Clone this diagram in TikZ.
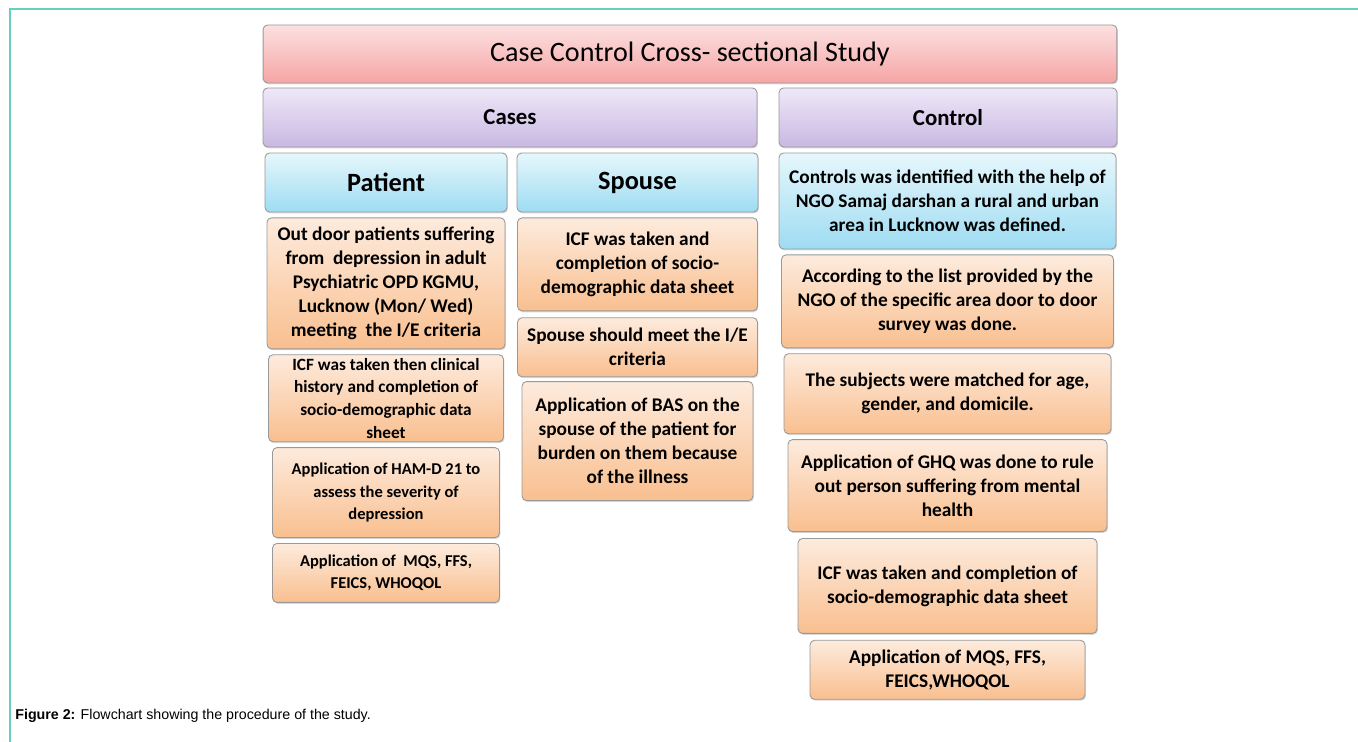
\documentclass[tikz,border=0pt]{standalone}
\usepackage{fontspec}
\setmainfont{Carlito}
\newfontfamily\capfont{Liberation Sans}
\usepackage{tikz}
\usetikzlibrary{positioning}
\usetikzlibrary{shadows}

\definecolor{framecol}{HTML}{66CFC0}
\definecolor{pinktop}{HTML}{FCE0E0}
\definecolor{pinkbot}{HTML}{F6A5A5}
\definecolor{lilactop}{HTML}{EFE8F8}
\definecolor{lilacbot}{HTML}{C8B8E2}
\definecolor{bluetop}{HTML}{E6F7FC}
\definecolor{bluebot}{HTML}{9EDCF2}
\definecolor{orangetop}{HTML}{FDEBDD}
\definecolor{orangebot}{HTML}{F9BF8F}

\begin{document}
\begin{tikzpicture}[x=0.02cm, y=-0.02cm,
    box/.style={draw=black!40, line width=0.5pt, rounded corners=0.09cm, align=center, inner sep=0pt,
        drop shadow={shadow xshift=0.5pt, shadow yshift=-0.8pt, opacity=0.3}},
    pinkbox/.style={box, top color=pinktop, bottom color=pinkbot},
    lilacbox/.style={box, top color=lilactop, bottom color=lilacbot},
    bluebox/.style={box, top color=bluetop, bottom color=bluebot},
    orangebox/.style={box, top color=orangetop, bottom color=orangebot},
    bodytext/.style={font=\bfseries\fontsize{11}{13.6}\selectfont},
    smalltext/.style={font=\bfseries\fontsize{9.4}{12.9}\selectfont},
    headtext/.style={font=\bfseries\fontsize{13}{15}\selectfont},
    subhead/.style={font=\bfseries\fontsize{15}{17}\selectfont}]

    \useasboundingbox (0,0) rectangle (1358,742);
    \draw[framecol, line width=1.2pt] (1358,9) -- (10,9) -- (10,742);

    \node[pinkbox, minimum width=17.08cm, minimum height=1.16cm, font=\fontsize{16}{18}\selectfont] (title) at (690,54) {Case Control Cross- sectional Study};
    \node[lilacbox, headtext, minimum width=9.88cm, minimum height=1.18cm] (cases) at (510,117.5) {Cases};
    \node[lilacbox, headtext, minimum width=6.76cm, minimum height=1.18cm] (control) at (948,117.5) {Control};

    \node[bluebox, subhead, minimum width=4.84cm, minimum height=1.18cm] (patient) at (386,182.5) {Patient};
    \node[orangebox, bodytext, minimum width=4.76cm, minimum height=2.62cm, below=0.1cm of patient] (p1)
        {Out door patients suffering\\from\ \ depression in adult\\Psychiatric OPD KGMU,\\Lucknow (Mon/ Wed)\\meeting\ \ the I/E criteria};
    \node[orangebox, smalltext, font=\bfseries\fontsize{9.8}{12.9}\selectfont, minimum width=4.7cm, minimum height=1.74cm, below=0.1cm of p1] (p2)
        {ICF was taken then clinical\\history and completion of\\socio-demographic data\\sheet};
    \node[orangebox, smalltext, minimum width=4.54cm, minimum height=1.8cm, below=0.1cm of p2] (p3)
        {Application of HAM-D 21 to\\assess the severity of\\depression};
    \node[orangebox, smalltext, minimum width=4.54cm, minimum height=1.18cm, below=0.1cm of p3] (p4)
        {Application of\ \ MQS, FFS,\\FEICS, WHOQOL};

    \node[bluebox, subhead, minimum width=4.82cm, minimum height=1.18cm] (spouse) at (637.5,182.5) {Spouse};
    \node[orangebox, bodytext, minimum width=4.8cm, minimum height=1.86cm, below=0.1cm of spouse] (s1)
        {ICF was taken and\\completion of socio-\\demographic data sheet};
    \node[orangebox, bodytext, minimum width=4.8cm, minimum height=1.18cm, below=0.12cm of s1] (s2)
        {Spouse should meet the I/E\\criteria};
    \node[orangebox, bodytext, minimum width=4.62cm, minimum height=2.38cm, below=0.08cm of s2] (s3)
        {Application of BAS on the\\spouse of the patient for\\burden on them because\\of the illness};

    \node[bluebox, bodytext, minimum width=6.74cm, minimum height=1.92cm] (ctrlinfo) at (947.5,201)
        {Controls was identified with the help of\\NGO Samaj darshan a rural and urban\\area in Lucknow was defined.};
    \node[orangebox, bodytext, minimum width=6.64cm, minimum height=1.86cm, below=0.1cm of ctrlinfo] (c1)
        {According to the list provided by the\\NGO of the specific area door to door\\survey was done.};
    \node[orangebox, bodytext, minimum width=6.54cm, minimum height=1.6cm, below=0.1cm of c1] (c2)
        {The subjects were matched for age,\\gender, and domicile.};
    \node[orangebox, bodytext, minimum width=6.38cm, minimum height=1.84cm, below=0.1cm of c2] (c3)
        {Application of GHQ was done to rule\\out person suffering from mental\\health};
    \node[orangebox, bodytext, minimum width=5.98cm, minimum height=1.9cm, below=0.12cm of c3] (c4)
        {ICF was taken and completion of\\socio-demographic data sheet};
    \node[orangebox, bodytext, minimum width=5.5cm, minimum height=1.18cm, below=0.12cm of c4] (c5)
        {Application of MQS, FFS,\\FEICS,WHOQOL};

    \node[anchor=west, inner sep=0pt, font=\capfont\fontsize{8.1}{10}\selectfont] (caption) at (15,716)
        {\textbf{Figure 2:} Flowchart showing the procedure of the study.};
\end{tikzpicture}
\end{document}
